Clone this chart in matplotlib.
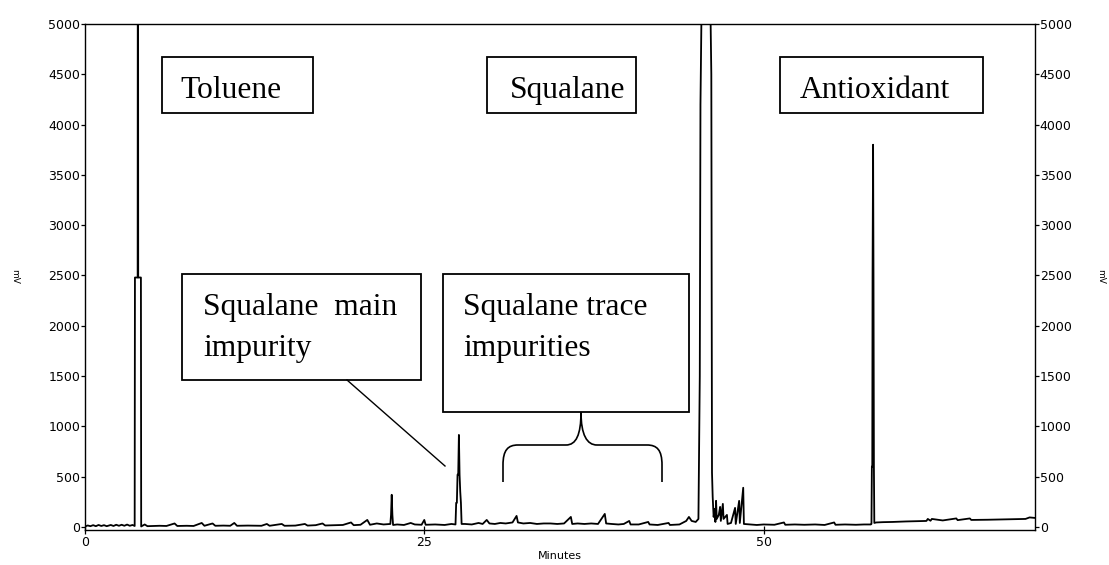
import matplotlib
matplotlib.use("Agg")
import matplotlib.pyplot as plt
from matplotlib.path import Path
from matplotlib.patches import PathPatch, Rectangle

# chromatogram trace (minutes, mV), row by row
minutes = [
    0.0, 0.2, 0.4, 0.6, 0.8, 1.0, 1.2, 1.4, 1.6, 1.9, 2.1, 2.3, 2.5, 2.7, 2.9,
    3.1, 3.3, 3.5, 3.66, 3.68, 3.88, 3.89, 3.91, 3.92, 4.12, 4.14, 4.4, 4.6,
    5.0, 5.5, 6.0, 6.6, 6.8, 7.5, 8.0, 8.6, 8.8, 9.4, 9.6, 10.2, 10.7, 11.0,
    11.2, 12.0, 13.0, 13.4, 13.6, 14.5, 14.7, 15.5, 16.2, 16.4, 17.0, 17.5,
    17.7, 18.5, 19.0, 19.6, 19.8, 20.3, 20.8, 21.0, 21.5, 22.0, 22.5, 22.55,
    22.6, 22.65, 22.7, 23.0, 23.5, 24.0, 24.3, 24.8, 25.0, 25.1, 25.8, 26.5,
    27.0, 27.3, 27.35, 27.4, 27.45, 27.5, 27.55, 27.6, 27.65, 27.7, 27.75,
    28.0, 28.5, 29.0, 29.3, 29.6, 29.8, 30.2, 30.6, 31.0, 31.5, 31.8, 31.9,
    32.3, 32.8, 33.3, 33.8, 34.3, 34.8, 35.3, 35.8, 35.9, 36.3, 36.8, 37.3,
    37.8, 38.3, 38.4, 38.8, 39.3, 39.7, 40.1, 40.2, 40.8, 41.5, 41.6, 42.2,
    43.0, 43.1, 43.8, 44.3, 44.5, 44.7, 45.0, 45.2, 45.3, 45.35, 45.5,
    46.0, 46.15, 46.2, 46.25, 46.32, 46.4, 46.45, 46.5, 46.55, 46.7, 46.8,
    46.85, 47.0, 47.05, 47.3, 47.35, 47.6, 47.9, 47.95, 48.2, 48.25, 48.5,
    48.55, 49.0, 49.5, 50.0, 50.8, 51.5, 51.6, 52.3, 53.0, 53.8, 54.5, 55.2,
    55.3, 56.0, 56.8, 57.4, 57.9, 57.95, 57.98, 58.01, 58.03, 58.07, 58.1,
    58.13, 58.16, 58.3, 58.8, 59.5, 60.5, 61.5, 62.0, 62.1, 62.3, 62.4, 63.2,
    64.2, 64.3, 65.2, 65.3, 66.5, 67.5, 68.5, 69.3, 69.6, 70.0,
]
signal_mv = [
    5, 15, 8, 18, 8, 20, 10, 18, 8, 20, 10, 22, 12, 22, 12,
    24, 12, 20, 10, 2480, 2480, 6000, 6000, 2480, 2480, 5, 25, 8,
    10, 12, 10, 35, 10, 12, 10, 40, 12, 35, 12, 14, 12, 40,
    12, 14, 12, 30, 12, 30, 12, 14, 30, 14, 18, 35,
    15, 18, 20, 45, 18, 22, 70, 22, 35, 25, 30, 120,
    320, 120, 20, 25, 20, 40, 25, 22, 70, 22, 25, 20,
    30, 25, 240, 240, 520, 520, 915, 520, 350, 240, 30,
    30, 25, 40, 30, 70, 35, 30, 40, 35, 45, 110, 45,
    35, 40, 30, 35, 35, 30, 35, 100, 30, 35, 30, 35,
    30, 130, 35, 30, 25, 30, 60, 25, 25, 50, 25, 20,
    40, 20, 25, 60, 100, 60, 50, 80, 1500, 4200, 6000,
    6000, 4500, 540, 300, 100, 180, 50, 260, 80, 120, 200,
    60, 230, 80, 120, 30, 40, 190, 30, 260, 40, 390,
    30, 25, 20, 25, 22, 45, 22, 25, 22, 25, 20, 45,
    22, 25, 22, 25, 25, 30, 600, 600, 2480, 3800, 2480,
    600, 40, 45, 48, 50, 55, 58, 60, 80, 62, 80, 65,
    85, 68, 85, 70, 72, 75, 78, 80, 95, 90,
]

x_ticks = [0, 25, 50]
y_ticks = [0, 500, 1000, 1500, 2000, 2500, 3000, 3500, 4000, 4500, 5000]

W, H = 1109, 565


def px(x, y):
    # pixel position (from top-left) -> figure fraction
    return (x / W, 1 - y / H)


fig = plt.figure(figsize=(W / 100, H / 100), dpi=100)
ax = fig.add_axes([85 / W, 1 - 530 / H, (1035 - 85) / W, (530 - 24) / H])

ax.plot(minutes, signal_mv, color="black", lw=1.3)
ax.set_xlim(0, 70)
ax.set_ylim(-30, 5000)
ax.set_xticks(x_ticks)
ax.set_yticks(y_ticks)
ax.tick_params(axis="y", direction="out", length=3, width=0.9, pad=0.5,
               labelsize=9, left=True, right=True, labelleft=True, labelright=True)
ax.tick_params(axis="x", direction="inout", length=6, width=0.9, pad=1, labelsize=9)
for s in ax.spines.values():
    s.set_linewidth(1.0)
ax.set_xlabel("Minutes", fontsize=8, labelpad=2)

fig.text(*px(15, 276), "mV", rotation=270, fontsize=6.5, ha="center", va="center")
fig.text(*px(1101, 276), "mV", rotation=270, fontsize=6.5, ha="center", va="center")

serif = "Liberation Serif"
boxes = [
    (162, 57, 313, 113),
    (487, 57, 636, 113),
    (780, 57, 983, 113),
    (182, 274, 421, 380),
    (443, 274, 689, 412),
]
for x0, y0, x1, y1 in boxes:
    fig.patches.append(Rectangle(px(x0, y1), (x1 - x0) / W, (y1 - y0) / H,
                                 transform=fig.transFigure, fill=True,
                                 facecolor="white", edgecolor="black", lw=1.3))

labels = [
    (180, 98, "Toluene"),
    (510, 98, "Squalane"),
    (800, 98, "Antioxidant"),
    (203, 315, "Squalane  main"),
    (203, 356, "impurity"),
    (463, 315, "Squalane trace"),
    (463, 356, "impurities"),
]
for x, y, s in labels:
    fig.text(*px(x, y), s, family=serif, fontsize=22.7, ha="left", va="baseline")

# pointer line to the main impurity peak
fig.add_artist(plt.Line2D([347 / W, 445 / W], [1 - 380 / H, 1 - 466 / H],
                          color="black", lw=1.0, transform=fig.transFigure))

# curly brace under the trace impurities box
brace_pts = [
    (503, 482), (503, 465),
    (503, 450), (508, 445), (518, 445),
    (566, 445),
    (576, 445), (581, 435), (581, 412),
    (581, 435), (587, 445), (597, 445),
    (647, 445),
    (657, 445), (662, 450), (662, 465),
    (662, 482),
]
codes = [Path.MOVETO, Path.LINETO,
         Path.CURVE4, Path.CURVE4, Path.CURVE4,
         Path.LINETO,
         Path.CURVE4, Path.CURVE4, Path.CURVE4,
         Path.CURVE4, Path.CURVE4, Path.CURVE4,
         Path.LINETO,
         Path.CURVE4, Path.CURVE4, Path.CURVE4,
         Path.LINETO]
brace = Path([px(x, y) for x, y in brace_pts], codes)
fig.patches.append(PathPatch(brace, transform=fig.transFigure, fill=False,
                             edgecolor="black", lw=1.2))

fig.savefig("out.png", dpi=100)
